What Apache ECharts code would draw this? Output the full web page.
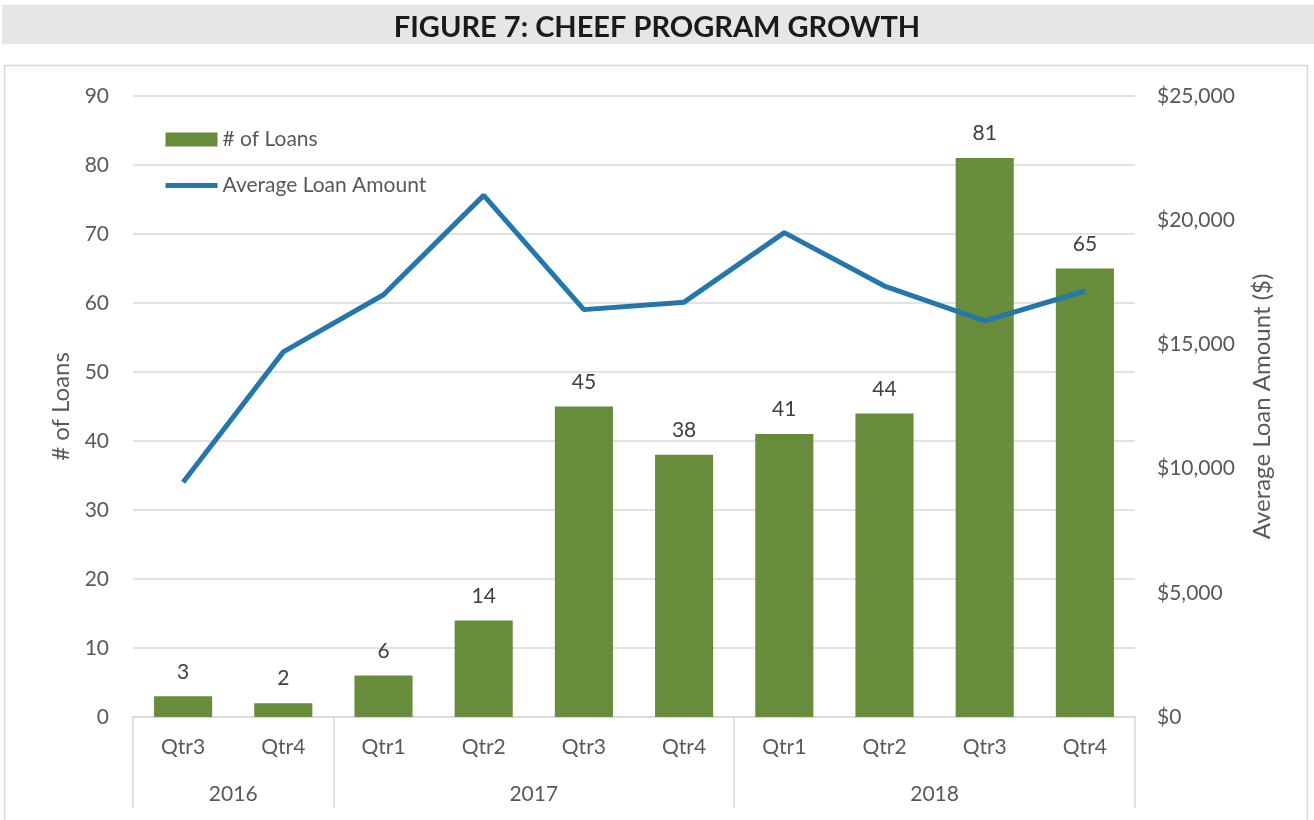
<!DOCTYPE html>
<html>
<head>
<meta charset="utf-8">
<script src="https://cdn.jsdelivr.net/npm/echarts@6/dist/echarts.min.js"></script>
<style>
  html, body { margin: 0; padding: 0; background: #fff; }
  #chart { width: 1314px; height: 820px; }
</style>
</head>
<body>
<div id="chart"></div>
<script>
// data
const quarters = ['Qtr3', 'Qtr4', 'Qtr1', 'Qtr2', 'Qtr3', 'Qtr4', 'Qtr1', 'Qtr2', 'Qtr3', 'Qtr4']
const years = ['2016', '2017', '2018']
const yearSpans = [2, 4, 4] // quarters per year group
const loans = [3, 2, 6, 14, 45, 38, 41, 44, 81, 65]
const avgLoan = [9450, 14700, 17000, 21000, 16400, 16700, 19500, 17350, 15950, 17150]

// boundaries / centres of the year groups on a 0..10 scale
const yearEdges = [0]
yearSpans.forEach(s => yearEdges.push(yearEdges[yearEdges.length - 1] + s))
const yearCentres = yearSpans.map((s, i) => yearEdges[i] + s / 2)

const font = 'Lato'
const txt = '#595959'
const gridCol = '#D9D9D9'

const chart = echarts.init(document.getElementById('chart'))

chart.setOption({
  animation: false,
  textStyle: { fontFamily: font },
  title: {
    text: 'FIGURE 7: CHEEF PROGRAM GROWTH',
    left: 'center',
    top: 8,
    textStyle: { fontFamily: font, fontWeight: 'bold', fontSize: 29, color: '#1a1a1a' }
  },
  graphic: [
    { type: 'rect', z: -10, shape: { x: 2, y: 5, width: 1312, height: 39 }, style: { fill: '#E6E6E6' } },
    { type: 'rect', z: -10, shape: { x: 4.5, y: 65.5, width: 1303, height: 770 }, style: { fill: 'none', stroke: gridCol, lineWidth: 1.5 } }
  ],
  legend: {
    orient: 'vertical',
    left: 158,
    top: 124,
    itemWidth: 52,
    itemHeight: 14,
    itemGap: 25,
    textStyle: { color: txt, fontSize: 21, fontFamily: font },
    data: [
      { name: '# of Loans', icon: 'rect' },
      { name: 'Average Loan Amount', itemStyle: { opacity: 0 }, lineStyle: { width: 5, color: '#2576AA' } }
    ]
  },
  grid: { left: 133, right: 179, top: 96, bottom: 103 },
  xAxis: [
    {
      type: 'category',
      data: quarters,
      axisLine: { lineStyle: { color: gridCol, width: 1.5 } },
      axisTick: { show: false },
      axisLabel: { color: txt, fontSize: 21, margin: 20 }
    },
    {
      type: 'value',
      position: 'bottom',
      min: 0,
      max: 10,
      splitLine: { show: false },
      axisLine: { show: false },
      axisTick: { show: true, customValues: yearEdges, length: 91, lineStyle: { color: gridCol, width: 1.5 } },
      axisLabel: {
        customValues: yearCentres,
        color: txt,
        fontSize: 21,
        margin: 67,
        formatter: v => years[yearCentres.indexOf(v)]
      }
    }
  ],
  yAxis: [
    {
      type: 'value',
      min: 0,
      max: 90,
      interval: 10,
      name: '# of Loans',
      nameLocation: 'middle',
      nameRotate: 90,
      nameGap: 59,
      nameTextStyle: { color: txt, fontSize: 24 },
      axisLine: { show: false },
      axisTick: { show: false },
      splitLine: { lineStyle: { color: gridCol, width: 1.5 } },
      axisLabel: { color: txt, fontSize: 21, margin: 24 }
    },
    {
      type: 'value',
      position: 'right',
      min: 0,
      max: 25000,
      interval: 5000,
      name: 'Average Loan Amount ($)',
      nameLocation: 'middle',
      nameRotate: 90,
      nameGap: 115,
      nameTextStyle: { color: txt, fontSize: 24 },
      axisLine: { show: false },
      axisTick: { show: false },
      splitLine: { show: false },
      axisLabel: {
        color: txt,
        fontSize: 21,
        margin: 22,
        formatter: v => '$' + v.toLocaleString('en-US')
      }
    }
  ],
  series: [
    {
      name: '# of Loans',
      type: 'bar',
      data: loans,
      barWidth: '58%',
      itemStyle: { color: '#678D3C' },
      label: { show: true, position: 'top', distance: 14, color: '#404040', fontSize: 21 }
    },
    {
      name: 'Average Loan Amount',
      type: 'line',
      yAxisIndex: 1,
      data: avgLoan,
      symbol: 'none',
      lineStyle: { width: 5, color: '#2576AA' },
      itemStyle: { color: '#2576AA' }
    }
  ]
})
</script>
</body>
</html>
